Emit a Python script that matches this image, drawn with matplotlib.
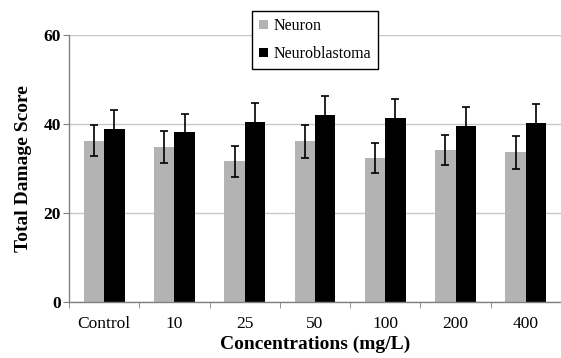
import matplotlib.pyplot as plt
import numpy as np

plt.rcParams.update({
    "font.family": "Liberation Serif",
    "figure.dpi": 100,
})

categories = ["Control", "10", "25", "50", "100", "200", "400"]
neuron = [36.2, 34.9, 31.6, 36.1, 32.3, 34.1, 33.6]
neuron_err = [3.5, 3.6, 3.5, 3.7, 3.4, 3.4, 3.6]
neuroblastoma = [38.9, 38.2, 40.4, 42.0, 41.3, 39.6, 40.3]
neuroblastoma_err = [4.2, 4.0, 4.4, 4.3, 4.3, 4.2, 4.3]

fig = plt.figure(figsize=(5.61, 3.58))
ax = fig.add_axes([69/561, 1 - 302/358, 492/561, 267/358])

x = np.arange(len(categories))
w = 0.29
ax.bar(x - w/2, neuron, w, color="#b3b3b3", label="Neuron", zorder=2,
       yerr=neuron_err, error_kw=dict(ecolor="black", elinewidth=1.2, capsize=3, capthick=1.2))
ax.bar(x + w/2, neuroblastoma, w, color="black", label="Neuroblastoma", zorder=2,
       yerr=neuroblastoma_err, error_kw=dict(ecolor="black", elinewidth=1.2, capsize=3, capthick=1.2))

ax.set_ylim(0, 60)
ax.set_yticks([0, 20, 40, 60])
ax.set_xlim(-0.5, (561 - 69) / 71.7 - 0.5)
ax.set_xticks(x)
ax.set_xticklabels(categories)
ax.set_xticks(np.arange(-0.5, 7, 1), minor=True)
ax.tick_params(axis="x", which="major", length=0, labelsize=12.5, pad=10)
ax.tick_params(axis="x", which="minor", length=4, color="#808080", direction="out")
ax.tick_params(axis="y", length=4, color="#808080", labelsize=12.5, pad=2)
for lab in ax.get_yticklabels():
    lab.set_fontweight("bold")

ax.yaxis.grid(True, color="#c8c8c8", linewidth=1.0, zorder=0)
ax.set_axisbelow(True)
for s in ["top", "right"]:
    ax.spines[s].set_visible(False)
for s in ["left", "bottom"]:
    ax.spines[s].set_color("#808080")
    ax.spines[s].set_linewidth(1.0)

ax.set_xlabel("Concentrations (mg/L)", fontsize=14, fontweight="bold", labelpad=3)
ax.set_ylabel("Total Damage Score", fontsize=14, fontweight="bold", labelpad=8)

fig.legend(loc="upper left", bbox_to_anchor=(252/561, 1 - 11/358), fontsize=11.5,
           frameon=True, fancybox=False, edgecolor="black", framealpha=1,
           handlelength=0.55, handleheight=0.55, handletextpad=0.35, borderpad=0.45,
           labelspacing=0.75, borderaxespad=0)

fig.savefig("out.png", dpi=100)
